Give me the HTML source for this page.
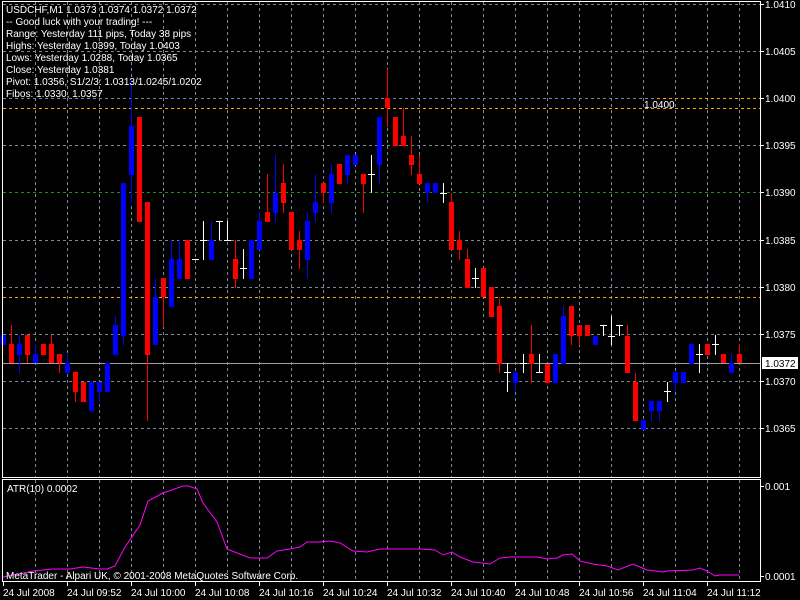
<!DOCTYPE html>
<html><head><meta charset="utf-8"><style>
html,body{margin:0;padding:0;background:#000;width:800px;height:600px;overflow:hidden}
svg text{font-family:"Liberation Sans",sans-serif;font-size:10px;fill:#fff}
</style></head><body>
<svg id="s" width="800" height="600" viewBox="0 0 800 600" xmlns="http://www.w3.org/2000/svg" shape-rendering="crispEdges">
<rect width="800" height="600" fill="#000"/>
<g id="grid"></g>
<g id="candles"></g>
<polyline fill="none" stroke="#ff00ff" stroke-width="1" shape-rendering="auto" points="3,577 33,571 53,569 70,569 83,567 100,569 107,569 115,566 125,547 140,525 148,501 163,493 183,486 188,486 197,489 203,503 217,522 227,549 250,558 267,558 277,551 290,549 300,547 307,542 320,542 330,541 340,543 353,551 367,552 380,549 400,549 420,549 435,550 443,555 452,552 460,557 473,562 490,564 500,558 510,557 537,557 547,559 557,558 563,555 572,554 580,561 593,564 607,566 618,570 633,564 640,567 647,570 663,572 667,571 693,570 700,568 707,571 715,576 720,575 739,575"/>
<rect x="2.5" y="1.5" width="758" height="476" fill="none" stroke="#fff"/>
<rect x="2.5" y="479.5" width="758" height="102" fill="none" stroke="#fff"/>
<g id="ticks" stroke="#fff"></g>
<text x="6" y="13">USDCHF,M1  1.0373 1.0374 1.0372 1.0372</text>
<text x="6" y="25">-- Good luck with your trading! ---</text>
<text x="6" y="37">Range: Yesterday 111 pips, Today 38 pips</text>
<text x="6" y="49">Highs: Yesterday 1.0399, Today 1.0403</text>
<text x="6" y="61">Lows:  Yesterday 1.0288, Today 1.0365</text>
<text x="6" y="73">Close: Yesterday 1.0381</text>
<text x="6" y="85">Pivot: 1.0356, S1/2/3: 1.0313/1.0245/1.0202</text>
<text x="6" y="97">Fibos: 1.0330, 1.0357</text>
<text x="644" y="108">1.0400</text>
<text x="7" y="492">ATR(10) 0.0002</text>
<text x="6" y="579">MetaTrader - Alpari UK, © 2001-2008 MetaQuotes Software Corp.</text>
<g>
<text x="765" y="8">1.0410</text>
<text x="765" y="55">1.0405</text>
<text x="765" y="102">1.0400</text>
<text x="765" y="149">1.0395</text>
<text x="765" y="196">1.0390</text>
<text x="765" y="244">1.0385</text>
<text x="765" y="291">1.0380</text>
<text x="765" y="338">1.0375</text>
<text x="765" y="385">1.0370</text>
<text x="765" y="432">1.0365</text>
<rect x="762" y="357" width="36" height="12" fill="#fff"/>
<text x="765" y="367" style="fill:#000">1.0372</text>
<text x="765" y="490">0.001</text>
<text x="765" y="580">0.0001</text>
</g>
<g>
<text x="3" y="596">24 Jul 2008</text>
<text x="67" y="596">24 Jul 09:52</text>
<text x="131" y="596">24 Jul 10:00</text>
<text x="195" y="596">24 Jul 10:08</text>
<text x="259" y="596">24 Jul 10:16</text>
<text x="323" y="596">24 Jul 10:24</text>
<text x="387" y="596">24 Jul 10:32</text>
<text x="451" y="596">24 Jul 10:40</text>
<text x="515" y="596">24 Jul 10:48</text>
<text x="579" y="596">24 Jul 10:56</text>
<text x="643" y="596">24 Jul 11:04</text>
<text x="707" y="596">24 Jul 11:12</text>
</g>
</svg>
<script>
var NS="http://www.w3.org/2000/svg";
function el(p,t,a){var e=document.createElementNS(NS,t);for(var k in a)e.setAttribute(k,a[k]);p.appendChild(e);return e;}
var g=document.getElementById('grid');
for(var x=35;x<=739;x+=32){
 el(g,'line',{x1:x+.5,y1:2,x2:x+.5,y2:477,stroke:'#778899','stroke-dasharray':'3,3'});
 el(g,'line',{x1:x+.5,y1:480,x2:x+.5,y2:581,stroke:'#778899','stroke-dasharray':'3,3'});
}
var hy=[4,51,98,145,240,287,334,381,428];
hy.forEach(function(y){el(g,'line',{x1:3,y1:y+.5,x2:760,y2:y+.5,stroke:'#778899','stroke-dasharray':'3,3'});});
el(g,'line',{x1:3,y1:192.5,x2:760,y2:192.5,stroke:'#228b22','stroke-dasharray':'3,3'});
el(g,'line',{x1:3,y1:108.5,x2:760,y2:108.5,stroke:'#ffa500','stroke-dasharray':'3,3'});
el(g,'line',{x1:3,y1:297.5,x2:760,y2:297.5,stroke:'#ffa500','stroke-dasharray':'3,3'});
el(g,'line',{x1:657,y1:98.5,x2:760,y2:98.5,stroke:'#ffa500','stroke-dasharray':'3,3'});
el(g,'line',{x1:3,y1:363.5,x2:760,y2:363.5,stroke:'#a0a0a0'});
var C=[
[0,'b',335,345],[1,'r',344,363,325,363],[2,'b',344,355,335,373],[3,'r',335,355,335,363],[4,'b',354,363,344,363],
[5,'r',344,355],[6,'r',344,363,335,363],[7,'r',354,363,354,373],[8,'b',363,373,354,373],[9,'r',372,392,372,402],
[10,'r',382,402],[11,'b',382,411],[12,'b',382,392,382,402],[13,'b',363,392],[14,'b',325,355,316,355],
[15,'b',183,336,183,345],[16,'b',126,175,78,203],[17,'r',117,222],[18,'r',202,355,202,421],[19,'b',297,345,278,345],
[20,'r',278,297,278,327],[21,'b',259,307,240,307],[22,'b',259,279,240,279],[23,'r',240,279],[24,'w',259,260,259],
[25,'w',221,260,240],[26,'b',240,260,221,260],[27,'w',221,240,221],[28,'w',221,240,240],[29,'r',259,279,240,288],
[30,'w',249,279,268],[31,'b',240,279],[32,'b',221,250,212,250],[33,'r',212,222,174,222],[34,'b',193,213,155,222],
[35,'r',183,203,164,213],[36,'r',212,250],[37,'r',240,250,231,269],[38,'b',221,260,212,279],[39,'b',202,213,174,222],
[40,'r',183,193,183,203],[41,'b',174,203,164,213],[42,'r',164,184],[43,'b',155,175,155,184],[44,'b',155,165],
[45,'r',174,184,174,213],[46,'w',155,193,174],[47,'b',117,165,117,184],[48,'r',98,108,69,127],[49,'r',117,146],
[50,'r',136,146,108,146],[51,'r',155,165,136,175],[52,'r',174,184,155,184],[53,'b',183,193,183,203],[54,'b',183,193],
[55,'w',183,203,193],[56,'r',202,250,193,250],[57,'r',240,250,231,260],[58,'r',259,288,249,288],[59,'w',268,288,278],
[60,'r',268,297],[61,'r',287,317],[62,'r',306,364,297,373],[63,'w',363,392,372],[64,'b',372,383,372,392],
[65,'w',354,373,363],[66,'r',354,364,325,383],[67,'w',354,373,372],[68,'r',364,383],[69,'b',354,383],
[70,'b',316,364,306,364],[71,'r',306,336,306,345],[72,'r',325,336,325,345],[73,'r',325,336],[74,'b',336,345],
[75,'w',325,336,325],[76,'w',316,345,336],[77,'w',325,336,325],[78,'r',336,373,325,373],[79,'r',382,421,373,421],
[80,'b',420,430],[81,'b',401,411,401,421],[82,'b',401,411,401,421],[83,'w',382,402,391],[84,'b',372,383,372,392],
[85,'b',372,383],[86,'b',344,364],[87,'w',344,373,354],[88,'r',344,355],[89,'w',335,355,344],
[90,'r',354,363],[91,'b',363,373,354,373],[92,'r',354,363,344,363]];
var cg=document.getElementById('candles');
var col={b:'#0000ff',r:'#ff0000',w:'#ffffff'};
C.forEach(function(c){
 var k=c[0],x=1+8*k,cx=3+8*k;
 if(c[1]=='w'){
  el(cg,'rect',{x:cx,y:c[2],width:1,height:c[3]-c[2],fill:'#fff'});
  el(cg,'rect',{x:cx-3,y:c[4],width:7,height:1,fill:'#fff'});
  return;
 }
 if(c.length>4) el(cg,'rect',{x:cx,y:c[4],width:1,height:c[5]-c[4],fill:col[c[1]]});
 el(cg,'rect',{x:x,y:c[2],width:5,height:Math.max(1,c[3]-c[2]),fill:col[c[1]]});
});
var tk=document.getElementById('ticks');
[4,51,98,145,192,240,287,334,381,428,486,576].forEach(function(y){el(tk,'line',{x1:760,y1:y+.5,x2:764,y2:y+.5});});
for(var x=3;x<=707;x+=64){el(tk,'line',{x1:x+.5,y1:582,x2:x+.5,y2:586});}
</script>
</body></html>
